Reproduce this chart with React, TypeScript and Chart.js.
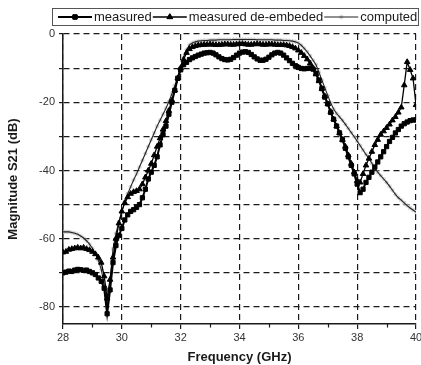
import React, { useEffect, useRef } from "react";
import { Chart, registerables } from "chart.js";
import { drawPoint } from "chart.js/helpers";

Chart.register(...registerables);

// Frequency sweep, GHz
const FREQ_GHZ = [
  28.0, 28.1, 28.2, 28.3, 28.4, 28.5, 28.6, 28.7, 28.8, 28.9,
  29.0, 29.1, 29.2, 29.3, 29.4, 29.5, 29.6, 29.7, 29.8, 29.9,
  30.0, 30.1, 30.2, 30.3, 30.4, 30.5, 30.6, 30.7, 30.8, 30.9,
  31.0, 31.1, 31.2, 31.3, 31.4, 31.5, 31.6, 31.7, 31.8, 31.9,
  32.0, 32.1, 32.2, 32.3, 32.4, 32.5, 32.6, 32.7, 32.8, 32.9,
  33.0, 33.1, 33.2, 33.3, 33.4, 33.5, 33.6, 33.7, 33.8, 33.9,
  34.0, 34.1, 34.2, 34.3, 34.4, 34.5, 34.6, 34.7, 34.8, 34.9,
  35.0, 35.1, 35.2, 35.3, 35.4, 35.5, 35.6, 35.7, 35.8, 35.9,
  36.0, 36.1, 36.2, 36.3, 36.4, 36.5, 36.6, 36.7, 36.8, 36.9,
  37.0, 37.1, 37.2, 37.3, 37.4, 37.5, 37.6, 37.7, 37.8, 37.9,
  38.0, 38.1, 38.2, 38.3, 38.4, 38.5, 38.6, 38.7, 38.8, 38.9,
  39.0, 39.1, 39.2, 39.3, 39.4, 39.5, 39.6, 39.7, 39.8, 39.9,
  40.0,
];

// |S21| in dB, raw measurement
const MEASURED = [
  -70.0, -69.8, -69.5, -69.6, -69.2, -69.0, -69.1, -69.3, -69.2, -69.6,
  -70.0, -70.5, -71.5, -72.5, -74.5, -82.0, -75.0, -67.0, -62.0, -59.0,
  -57.0, -54.5, -53.0, -52.0, -51.5, -50.8, -50.0, -48.0, -45.5, -42.5,
  -40.5, -38.5, -36.0, -32.5, -29.5, -27.0, -23.5, -20.0, -16.5, -13.0,
  -10.5, -9.0, -8.3, -7.5, -7.0, -6.6, -6.2, -5.9, -5.6, -5.5,
  -5.4, -5.6, -6.1, -6.7, -7.2, -7.5, -7.6, -7.4, -6.9, -6.2,
  -5.6, -5.3, -5.2, -5.4, -6.0, -6.7, -7.3, -7.7, -7.7, -7.4,
  -6.8, -6.1, -5.6, -5.4, -5.6, -6.2, -7.0, -7.8, -8.6, -9.3,
  -9.8, -10.1, -10.2, -10.1, -10.0, -10.3, -11.5, -13.5, -16.0, -18.5,
  -20.5, -23.0, -25.0, -27.0, -29.0, -31.0, -33.5, -36.0, -38.5, -41.0,
  -44.0, -46.5, -45.5, -43.5, -42.0, -40.5, -39.0, -37.5, -36.0, -34.5,
  -33.0, -31.5, -30.3, -29.0, -28.0, -27.0, -26.3, -25.8, -25.4, -25.2,
  -25.2,
];

// |S21| in dB after de-embedding the fixture
const DEEMBEDDED = [
  -64.0, -63.8, -63.2, -63.0, -62.8, -62.6, -62.8, -62.6, -63.0, -63.3,
  -63.8, -64.5, -65.5, -67.0, -71.0, -77.5, -72.0, -65.5, -60.0, -55.5,
  -52.0, -49.5, -47.8, -46.8, -46.3, -46.0, -45.5, -44.0, -42.0, -40.0,
  -38.0, -35.5, -33.0, -30.5, -28.0, -25.5, -22.5, -19.5, -16.5, -13.0,
  -10.0, -7.5, -5.5, -4.4, -3.8, -3.5, -3.3, -3.2, -3.1, -3.1,
  -3.0, -3.1, -3.2, -3.2, -3.1, -3.0, -3.0, -3.1, -3.1, -3.0,
  -2.9, -2.9, -3.0, -3.1, -3.1, -3.0, -2.9, -3.0, -3.1, -3.1,
  -3.0, -3.0, -3.1, -3.2, -3.2, -3.2, -3.3, -3.5, -3.8, -4.2,
  -4.8, -5.5, -6.4, -7.4, -8.6, -10.0, -11.8, -13.8, -16.0, -18.2,
  -20.5, -22.8, -25.0, -27.0, -29.0, -31.0, -33.0, -35.5, -38.0, -40.5,
  -43.0, -43.5, -41.0, -38.5, -36.5, -34.5, -32.5, -31.0, -29.5, -28.5,
  -27.5, -26.5, -25.3, -24.3, -23.0, -21.5, -15.0, -8.2, -10.5, -13.0,
  -20.8,
];

// |S21| in dB, simulation
const COMPUTED = [
  -58.0, -58.0, -58.0, -58.2, -58.4, -58.7, -59.2, -59.8, -60.6, -61.6,
  -62.8, -64.3, -66.3, -69.0, -73.5, -80.0, -72.0, -63.0, -58.5, -55.0,
  -52.0, -49.2, -46.8, -44.8, -42.8, -41.0, -39.0, -37.0, -35.0, -33.0,
  -31.0, -29.0, -27.0, -25.3, -23.5, -21.8, -19.8, -17.6, -15.2, -12.5,
  -9.5, -6.8, -4.6, -3.2, -2.6, -2.3, -2.1, -2.0, -1.9, -1.9,
  -1.8, -1.8, -1.8, -1.7, -1.7, -1.7, -1.7, -1.7, -1.6, -1.6,
  -1.6, -1.6, -1.6, -1.6, -1.6, -1.6, -1.7, -1.7, -1.7, -1.7,
  -1.7, -1.7, -1.8, -1.8, -1.8, -1.9, -1.9, -2.0, -2.1, -2.3,
  -2.6, -3.3, -4.2, -5.2, -6.4, -7.7, -9.0, -11.2, -13.5, -15.8,
  -18.0, -20.2, -22.0, -23.3, -24.3, -25.3, -26.5, -27.7, -28.9, -30.1,
  -31.4, -32.7, -34.0, -35.3, -36.5, -37.9, -39.3, -40.5, -41.5, -42.5,
  -43.5, -44.6, -45.8, -47.0, -48.0, -48.7, -49.5, -50.3, -51.0, -51.6,
  -52.2,
];

const SERIES_LABELS = ["measured", "measured de-embeded", "computed"];
const X_MAJOR = [28, 30, 32, 34, 36, 38, 40];
const X_MINOR = [29, 31, 33, 35, 37, 39];
const Y_GRID = [0, -10, -20, -30, -40, -50, -60, -70, -80];
const Y_LABELLED = [0, -20, -40, -60, -80];

const FONT = '"Liberation Sans", Arial, Helvetica, sans-serif';
const INK = "#1a1a1a";

const toPoints = (ys: number[]) => FREQ_GHZ.map((x, i) => ({ x, y: ys[i] }));

// Per-series look, shared by the datasets and the legend
const STYLES = [
  { line: "#000", lineWidth: 2, marker: "rect", radius: 3, fill: "#000", stroke: "#000" },
  { line: "#000", lineWidth: 1.3, marker: "triangle", radius: 3.2, fill: "#000", stroke: "#000" },
  { line: "#222", lineWidth: 1.1, marker: "star", radius: 2.2, fill: "#c4c4c4", stroke: "#c4c4c4" },
];

// Boxed legend: line sample with its marker in the middle, then the label
const boxLegend = {
  id: "boxLegend",
  afterDraw(chart: any) {
    const ctx: CanvasRenderingContext2D = chart.ctx;
    ctx.save();
    ctx.strokeStyle = "#555";
    ctx.lineWidth = 1;
    ctx.strokeRect(52.5, 8.5, 366, 17);
    const y = 17;
    ctx.font = `13px ${FONT}`;
    ctx.textBaseline = "middle";
    ctx.textAlign = "left";
    let x = 58;
    SERIES_LABELS.forEach((label, i) => {
      const s = STYLES[i];
      ctx.setLineDash([]);
      ctx.fillStyle = s.fill;
      ctx.strokeStyle = s.stroke;
      ctx.lineWidth = 1;
      drawPoint(ctx, { pointStyle: s.marker, radius: s.radius, rotation: 0, borderWidth: 1 } as any, x + 17, y);
      ctx.strokeStyle = s.line;
      ctx.lineWidth = s.lineWidth;
      ctx.beginPath();
      ctx.moveTo(x, y);
      ctx.lineTo(x + 34, y);
      ctx.stroke();
      if (i < 2) {
        ctx.fillStyle = s.fill;
        ctx.strokeStyle = s.stroke;
        ctx.lineWidth = 1;
        drawPoint(ctx, { pointStyle: s.marker, radius: s.radius, rotation: 0, borderWidth: 1 } as any, x + 17, y);
      }
      ctx.fillStyle = INK;
      ctx.fillText(label, x + 36, y + 0.5);
      x += 36 + ctx.measureText(label).width + 1;
    });
    ctx.restore();
  },
};

// Small ticks between the labelled frequencies
const minorTicks = {
  id: "minorTicks",
  afterDraw(chart: any) {
    const ctx: CanvasRenderingContext2D = chart.ctx;
    const xs = chart.scales.x;
    const bottom = chart.chartArea.bottom;
    ctx.save();
    ctx.strokeStyle = INK;
    ctx.lineWidth = 1.2;
    X_MINOR.forEach((v) => {
      const px = Math.round(xs.getPixelForValue(v)) + 0.5;
      ctx.beginPath();
      ctx.moveTo(px, bottom);
      ctx.lineTo(px, bottom + 3.5);
      ctx.stroke();
    });
    ctx.restore();
  },
};

const markerSeries = (label: string, values: number[], s: any, order: number) => ({
  label,
  data: toPoints(values),
  order,
  borderColor: s.line,
  borderWidth: s.lineWidth,
  pointStyle: s.marker,
  pointRadius: s.radius,
  pointBackgroundColor: s.fill,
  pointBorderColor: s.stroke,
  pointBorderWidth: 1,
  tension: 0,
});

export default function App() {
  const ref = useRef<HTMLCanvasElement | null>(null);

  useEffect(() => {
    document.body.style.margin = "0";
    const canvas = ref.current;
    if (!canvas) return;
    Chart.defaults.font.family = FONT;

    const chart = new Chart(canvas, {
      type: "line",
      data: {
        datasets: [
          markerSeries(SERIES_LABELS[0], MEASURED, STYLES[0], 0),
          markerSeries(SERIES_LABELS[1], DEEMBEDDED, STYLES[1], 1),
          // simulated curve: light star markers underneath, dark trace on top
          { ...markerSeries(SERIES_LABELS[2], COMPUTED, STYLES[2], 3), showLine: false },
          {
            label: SERIES_LABELS[2],
            data: toPoints(COMPUTED),
            order: 2,
            borderColor: STYLES[2].line,
            borderWidth: STYLES[2].lineWidth,
            pointRadius: 0,
            tension: 0,
          },
        ],
      },
      options: {
        responsive: false,
        devicePixelRatio: 1,
        animation: false,
        events: [],
        layout: { padding: { top: 34, right: 3, left: 0, bottom: 0 } },
        plugins: {
          legend: { display: false },
          tooltip: { enabled: false },
        },
        scales: {
          x: {
            type: "linear",
            min: 28,
            max: 40,
            afterBuildTicks: (scale: any) => {
              scale.ticks = X_MAJOR.map((value) => ({ value }));
            },
            afterFit: (scale: any) => {
              scale.height = 41;
              scale.paddingLeft = 0;
              scale.paddingRight = 0;
            },
            ticks: {
              color: "#333",
              font: { size: 11 },
              padding: 2,
              maxRotation: 0,
              autoSkip: false,
              callback: (v: any) => String(v),
            },
            grid: {
              color: INK,
              lineWidth: 1.2,
              tickLength: 5,
              drawTicks: true,
            },
            border: { display: true, color: INK, width: 1.5, dash: [6, 4] },
            title: {
              display: true,
              text: "Frequency (GHz)",
              color: INK,
              font: { size: 13, weight: "bold" },
              padding: { top: 1, bottom: 0 },
            },
          },
          y: {
            type: "linear",
            min: -85,
            max: 0,
            afterBuildTicks: (scale: any) => {
              scale.ticks = Y_GRID.map((value) => ({ value }));
            },
            afterFit: (scale: any) => {
              scale.width = 63;
              scale.paddingTop = 0;
              scale.paddingBottom = 0;
            },
            ticks: {
              color: "#333",
              font: { size: 11 },
              padding: 4,
              autoSkip: false,
              callback: (v: any) => (Y_LABELLED.includes(Number(v)) ? String(v) : ""),
            },
            grid: {
              color: INK,
              lineWidth: 1.2,
              tickLength: 4,
            },
            border: { display: true, color: INK, width: 1.5, dash: [6, 4] },
            title: {
              display: true,
              text: "Magnitude S21 (dB)",
              color: INK,
              font: { size: 13, weight: "bold" },
              padding: { top: 6, bottom: 0 },
            },
          },
        },
      },
      plugins: [minorTicks, boxLegend],
    } as any);

    return () => chart.destroy();
  }, []);

  return (
    <div style={{ position: "absolute", left: 0, top: 0, width: 421, height: 365, background: "#fff" }}>
      <canvas ref={ref} width={421} height={365} style={{ display: "block", width: 421, height: 365 }} />
    </div>
  );
}
